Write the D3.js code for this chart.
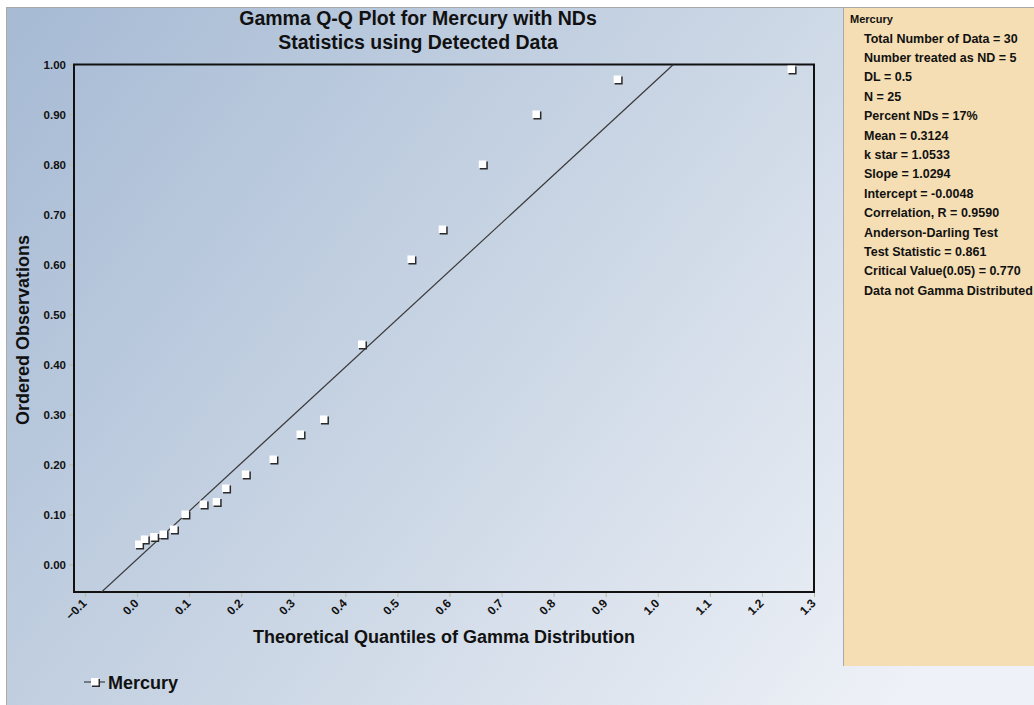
<!DOCTYPE html>
<html>
<head>
<meta charset="utf-8">
<script src="https://cdn.jsdelivr.net/npm/d3@7"></script>
<style>
html,body{margin:0;padding:0;background:#ffffff;}
svg{display:block;}
text{font-family:"Liberation Sans",Arial,sans-serif;}
</style>
</head>
<body>
<script>
// ---- data ----
const titleLines = ["Gamma Q-Q Plot for Mercury with NDs", "Statistics using Detected Data"];
const xLabel = "Theoretical Quantiles of Gamma Distribution";
const yLabel = "Ordered Observations";
const seriesName = "Mercury";
const theoreticalQ = [0.004, 0.015, 0.033, 0.051, 0.071, 0.093, 0.128, 0.153, 0.171, 0.209, 0.262, 0.314, 0.359, 0.432, 0.527, 0.587, 0.664, 0.767, 0.923, 1.257];
const observed     = [0.040, 0.050, 0.055, 0.060, 0.070, 0.100, 0.120, 0.125, 0.152, 0.180, 0.210, 0.260, 0.290, 0.440, 0.610, 0.670, 0.800, 0.900, 0.970, 0.990];
const fitLineX = [-0.068, 1.030];
const fitLineY = [-0.055, 1.000];
const xTicks = [-0.1, 0.0, 0.1, 0.2, 0.3, 0.4, 0.5, 0.6, 0.7, 0.8, 0.9, 1.0, 1.1, 1.2, 1.3];
const yTicks = [0.00, 0.10, 0.20, 0.30, 0.40, 0.50, 0.60, 0.70, 0.80, 0.90, 1.00];
const xDomain = [-0.121, 1.3];
const yDomain = [-0.055, 1.0];
const panelHeader = "Mercury";
const panelLines = [
  "Total Number of Data = 30",
  "Number treated as ND = 5",
  "DL = 0.5",
  "N = 25",
  "Percent NDs = 17%",
  "Mean = 0.3124",
  "k star = 1.0533",
  "Slope = 1.0294",
  "Intercept = -0.0048",
  "Correlation, R = 0.9590",
  "Anderson-Darling Test",
  "Test Statistic = 0.861",
  "Critical Value(0.05) = 0.770",
  "Data not Gamma Distributed"
];

// ---- layout ----
const W = 1034, H = 705;
const plot = {left: 74, right: 814, top: 64.5, bottom: 592};

const svg = d3.select("body").append("svg").attr("width", W).attr("height", H);
const defs = svg.append("defs");
const grad = defs.append("linearGradient").attr("id", "bg")
  .attr("gradientUnits", "userSpaceOnUse")
  .attr("x1", 7).attr("y1", 8).attr("x2", 900).attr("y2", 705);
grad.append("stop").attr("offset", "0").attr("stop-color", "#a6bad4");
grad.append("stop").attr("offset", "0.5").attr("stop-color", "#c9d5e4");
grad.append("stop").attr("offset", "1").attr("stop-color", "#eef1f7");

// outer frame
svg.append("rect").attr("x", 0).attr("y", 0).attr("width", W).attr("height", H).attr("fill", "#ffffff");
svg.append("rect").attr("x", 6).attr("y", 7).attr("width", W - 6).attr("height", H - 7).attr("fill", "url(#bg)");
svg.append("line").attr("x1", 6).attr("x2", W).attr("y1", 7.5).attr("y2", 7.5).attr("stroke", "#a8a8a8");
svg.append("line").attr("x1", 6.5).attr("x2", 6.5).attr("y1", 7).attr("y2", H).attr("stroke", "#b0aa98");

// side panel
svg.append("rect").attr("x", 843).attr("y", 8).attr("width", W - 843).attr("height", 658).attr("fill", "#f5deb3");
svg.append("line").attr("x1", 843.5).attr("x2", 843.5).attr("y1", 8).attr("y2", 666).attr("stroke", "#a9a9a9");

const panel = svg.append("g");
panel.append("text").attr("x", 850).attr("y", 23).attr("font-size", 11).attr("font-weight", "bold").attr("fill", "#111").text(panelHeader);
panel.selectAll("text.pl").data(panelLines).enter().append("text").attr("class", "pl")
  .attr("x", 864).attr("y", (d, i) => 42.5 + i * 19.4)
  .attr("font-size", 12.5).attr("font-weight", "bold").attr("fill", "#111")
  .text(d => d);

// scales
const x = d3.scaleLinear().domain(xDomain).range([plot.left, plot.right]);
const y = d3.scaleLinear().domain(yDomain).range([plot.bottom, plot.top]);

// title
svg.selectAll("text.title").data(titleLines).enter().append("text").attr("class", "title")
  .attr("x", 418).attr("y", (d, i) => 25 + i * 24)
  .attr("text-anchor", "middle").attr("font-size", 19.5).attr("font-weight", "bold").attr("fill", "#111")
  .text(d => d);

// axes
const yAxis = d3.axisLeft(y).tickValues(yTicks).tickFormat(d3.format(".2f")).tickSize(5).tickPadding(3);
const gy = svg.append("g").attr("transform", `translate(${plot.left},0)`).call(yAxis);
gy.select(".domain").remove();
gy.selectAll(".tick line").attr("stroke", "#bdb89e");
gy.selectAll(".tick text").attr("font-size", 11.5).attr("font-weight", "bold").attr("fill", "#111")
  .attr("font-family", "'Liberation Sans',Arial,sans-serif");

const xAxis = d3.axisBottom(x).tickValues(xTicks).tickFormat(d3.format(".1f")).tickSize(5);
const gx = svg.append("g").attr("transform", `translate(0,${plot.bottom})`).call(xAxis);
gx.select(".domain").remove();
gx.selectAll(".tick line").attr("stroke", "#bdb89e");
gx.selectAll(".tick text").attr("font-size", 12).attr("font-weight", "bold").attr("fill", "#111")
  .attr("font-family", "'Liberation Sans',Arial,sans-serif")
  .attr("text-anchor", "end").attr("dy", null).attr("y", 0)
  .attr("transform", "translate(2,12) rotate(-45)");

// plot box
svg.append("rect").attr("x", plot.left).attr("y", plot.top)
  .attr("width", plot.right - plot.left).attr("height", plot.bottom - plot.top)
  .attr("fill", "none").attr("stroke", "#111").attr("stroke-width", 2);

// fit line (clipped)
defs.append("clipPath").attr("id", "clip").append("rect")
  .attr("x", plot.left).attr("y", plot.top).attr("width", plot.right - plot.left).attr("height", plot.bottom - plot.top);
svg.append("line").attr("clip-path", "url(#clip)")
  .attr("x1", x(fitLineX[0])).attr("y1", y(fitLineY[0]))
  .attr("x2", x(fitLineX[1])).attr("y2", y(fitLineY[1]))
  .attr("stroke", "#3a3a3a").attr("stroke-width", 1.2);

// markers
const pts = theoreticalQ.map((q, i) => ({q, o: observed[i]}));
const mk = svg.append("g");
mk.selectAll("rect.sh").data(pts).enter().append("rect").attr("class", "sh")
  .attr("x", d => x(d.q) - 3).attr("y", d => y(d.o) - 3).attr("width", 8).attr("height", 8)
  .attr("fill", "#2a2a2a");
mk.selectAll("rect.fg").data(pts).enter().append("rect").attr("class", "fg")
  .attr("x", d => x(d.q) - 4).attr("y", d => y(d.o) - 4).attr("width", 7.5).attr("height", 7.5)
  .attr("fill", "#ffffff");

// axis titles
svg.append("text").attr("x", 444).attr("y", 643).attr("text-anchor", "middle")
  .attr("font-size", 18).attr("font-weight", "bold").attr("fill", "#111").text(xLabel);
svg.append("text").attr("transform", "translate(29,330) rotate(-90)").attr("text-anchor", "middle")
  .attr("font-size", 18).attr("font-weight", "bold").attr("fill", "#111").text(yLabel);

// legend
const lg = svg.append("g").attr("transform", "translate(95,682)");
lg.append("line").attr("x1", -11).attr("x2", 10).attr("y1", 0).attr("y2", 0).attr("stroke", "#222").attr("stroke-width", 1);
lg.append("rect").attr("x", -3).attr("y", -3).attr("width", 8).attr("height", 8).attr("fill", "#2a2a2a");
lg.append("rect").attr("x", -4).attr("y", -4).attr("width", 7.5).attr("height", 7.5).attr("fill", "#ffffff");
lg.append("text").attr("x", 13).attr("y", 6.5).attr("font-size", 18).attr("font-weight", "bold").attr("fill", "#111").text(seriesName);
</script>
</body>
</html>
